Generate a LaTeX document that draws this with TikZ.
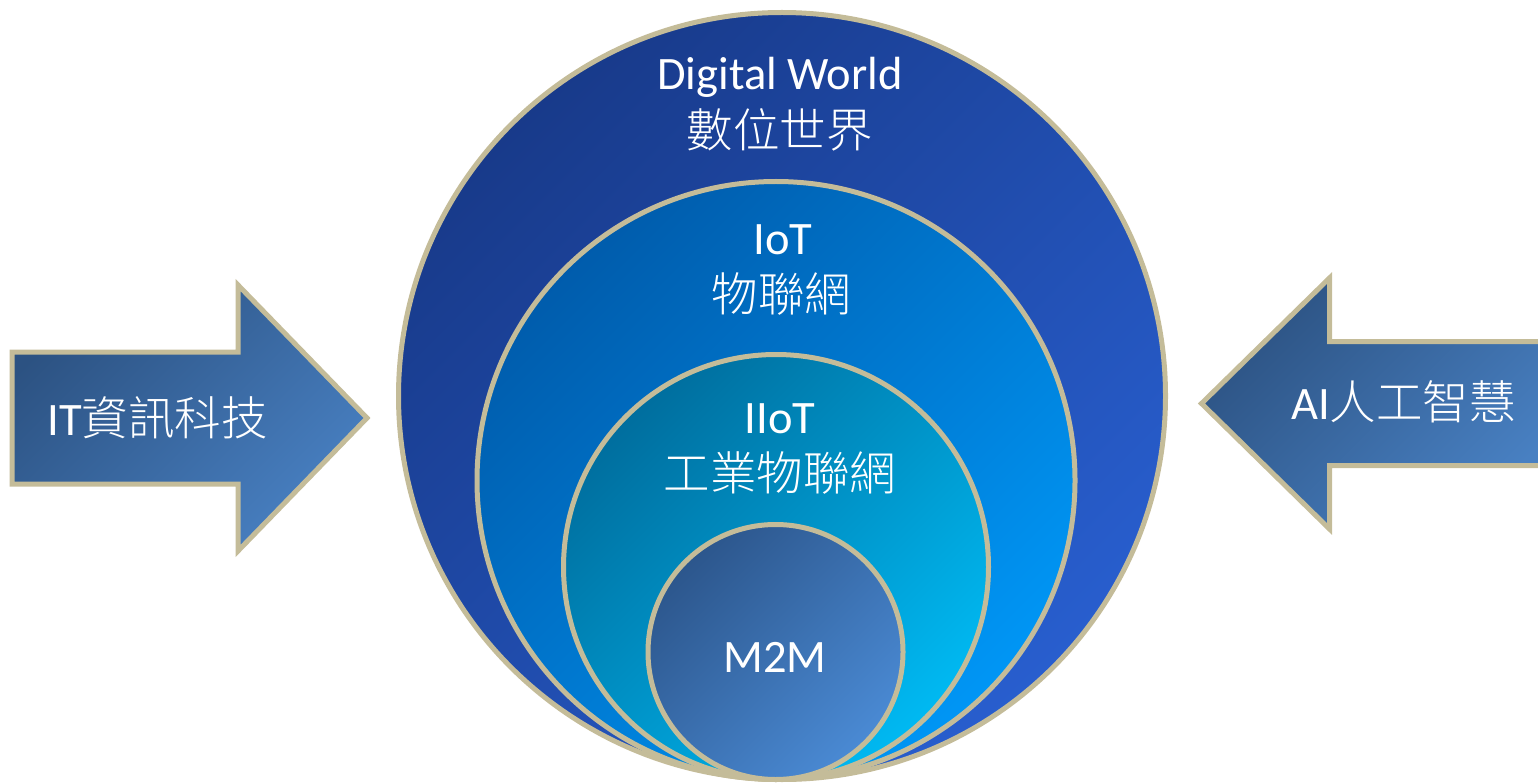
\documentclass[tikz,border=0pt]{standalone}
\usepackage{fontspec}
\setmainfont{Carlito}
\newfontfamily\cjk{Noto Sans CJK TC}[UprightFont={* Light}]
\definecolor{rim}{RGB}{196,188,153}
\definecolor{worldA}{RGB}{24,58,138}
\definecolor{worldB}{RGB}{40,94,206}
\definecolor{iotA}{RGB}{0,92,172}
\definecolor{iotB}{RGB}{0,150,245}
\definecolor{iiotA}{RGB}{0,110,158}
\definecolor{iiotB}{RGB}{0,185,242}
\definecolor{mmA}{RGB}{44,86,140}
\definecolor{mmB}{RGB}{74,138,212}
\definecolor{arrA}{RGB}{44,82,130}
\definecolor{arrB}{RGB}{72,128,194}

\begin{document}
\begin{tikzpicture}[x=1pt, y=-1pt,
  ring/.style 2 args={circle, draw=rim, line width=5pt, inner sep=0pt,
    top color=#1, bottom color=#2, shading angle=45},
  shaft/.style={draw=rim, line width=5pt, line join=miter,
    top color=arrA, bottom color=arrB, shading angle=45},
  txt/.style={text=white, inner sep=0pt, anchor=base,
    font=\fontsize{46.5}{56}\selectfont}]
\useasboundingbox (0,0) rectangle (1538,783);
% circles
\draw (782,396)   node (world) [ring={worldA}{worldB}, minimum size=767pt] {};
\draw (776,480.5) node (iot)   [ring={iotA}{iotB},     minimum size=598pt] {};
\draw (776,567)   node (iiot)  [ring={iiotA}{iiotB},   minimum size=425pt] {};
\draw (775.5,652) node (mm)    [ring={mmA}{mmB},       minimum size=255pt] {};
% arrows
\path[shaft] (12,352) -- (238,352) -- (238,285) -- (367,418) -- (238,551)
  -- (238,484) -- (12,484) -- cycle;
\path[shaft] (1545,341.5) -- (1329.5,341.5) -- (1329.5,278) -- (1201.5,403.5)
  -- (1329.5,529) -- (1329.5,465.5) -- (1545,465.5) -- cycle;
% texts
\draw (780,90)    node (worldEn) [txt] {Digital World};
\draw (779.5,148) node (worldZh) [txt] {\cjk 數位世界};
\draw (783,255)   node (iotEn)   [txt] {IoT};
\draw (781.5,312) node (iotZh)   [txt] {\cjk 物聯網};
\draw (780,433)   node (iiotEn)  [txt] {IIoT};
\draw (780,490)   node (iiotZh)  [txt] {\cjk 工業物聯網};
\draw (775,672)   node (mmEn)    [txt] {M2M};
\draw (157.5,435) node (itText)  [txt] {IT{\cjk 資訊科技}};
\draw (1403.5,419) node (aiText) [txt] {AI{\cjk 人工智慧}};
\end{tikzpicture}
\end{document}
